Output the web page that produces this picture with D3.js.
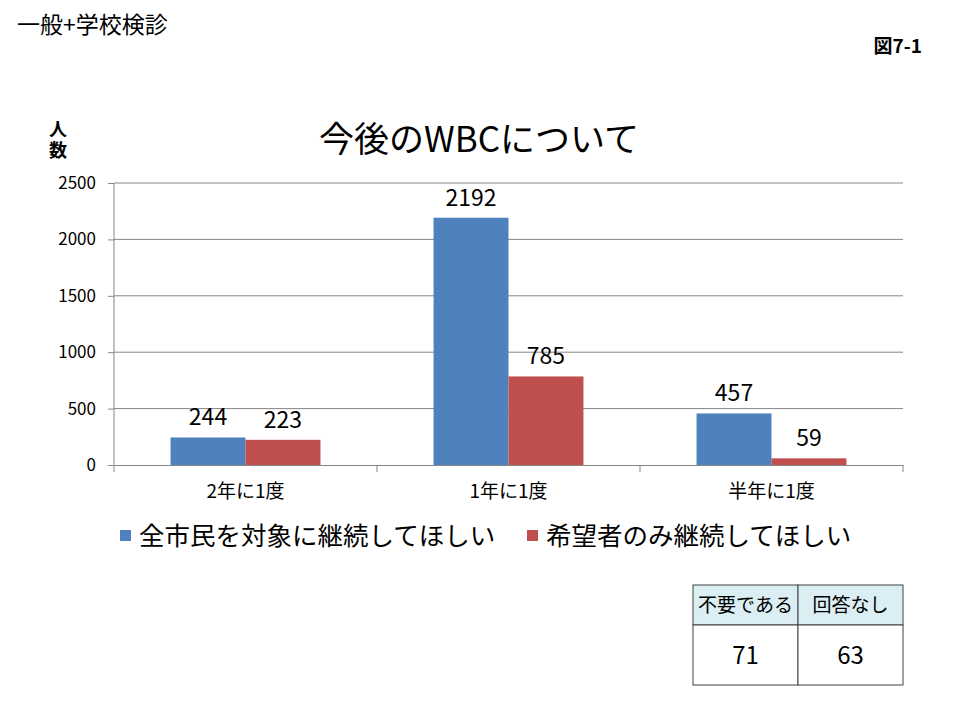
<!DOCTYPE html>
<html lang="ja">
<head>
<meta charset="utf-8">
<title>今後のWBCについて</title>
<style>
  body { margin: 0; background: #fff; font-family: "Noto Sans CJK JP", sans-serif; }
  svg text { fill: #000; }
</style>
</head>
<body>
<svg id="chart" width="960" height="720"></svg>
<script src="https://d3js.org/d3.v7.min.js"></script>
<script>

  const categories = ["2年に1度", "1年に1度", "半年に1度"];
  const seriesNames = ["全市民を対象に継続してほしい", "希望者のみ継続してほしい"];
  const allCitizens = [244, 2192, 457];
  const applicantsOnly = [223, 785, 59];
  const yTicks = [0, 500, 1000, 1500, 2000, 2500];
  const tableHeads = ["不要である", "回答なし"];
  const tableValues = [71, 63];

  const colors = ["#4F81BD", "#C0504D"];
  const series = [allCitizens, applicantsOnly];

  const plot = { left: 114, right: 903, top: 183, bottom: 465 };
  const svg = d3.select("#chart");
  const jp = "'Noto Sans CJK JP', sans-serif";

  // header texts
  svg.append("text").attr("x", 17).attr("y", 33)
    .style("font", "23px " + jp).text("一般+学校検診");
  svg.append("text").attr("x", 922).attr("y", 53).attr("text-anchor", "end")
    .style("font", "bold 19px " + jp).text("図7-1");
  svg.append("text").attr("x", 479).attr("y", 152).attr("text-anchor", "middle")
    .style("font", "35px " + jp).text("今後のWBCについて");
  // vertical axis title
  svg.append("text").attr("x", 58).attr("y", 120)
    .style("font", "bold 18px " + jp)
    .style("writing-mode", "vertical-rl")
    .style("letter-spacing", "3px")
    .text("人数");

  const x = d3.scaleBand().domain(categories).range([plot.left, plot.right]);
  // the two bars of a group sit side by side with no gap
  const groupWidth = x.bandwidth() * 0.57;
  const xs = d3.scaleBand().domain([0, 1])
    .range([(x.bandwidth() - groupWidth) / 2, (x.bandwidth() + groupWidth) / 2]);

  const y = d3.scaleLinear().domain([0, 2500]).range([plot.bottom, plot.top]);

  // gridlines
  svg.append("g").selectAll("line").data(yTicks.slice(1)).join("line")
    .attr("x1", plot.left).attr("x2", plot.right)
    .attr("y1", d => y(d)).attr("y2", d => y(d))
    .attr("stroke", "#868686").attr("stroke-width", 1);

  // y axis
  const yAxis = svg.append("g").attr("transform", `translate(${plot.left},0)`)
    .call(d3.axisLeft(y).tickValues(yTicks).tickFormat(d3.format("d")).tickSize(6).tickPadding(12));
  yAxis.select(".domain").attr("stroke", "#868686").attr("d", `M0,${plot.top}V${plot.bottom}`);
  yAxis.selectAll(".tick line").attr("stroke", "#868686");
  yAxis.selectAll("text").style("font", "17px " + jp).attr("fill", "#000");

  // bars
  const groups = svg.append("g").selectAll("g").data(categories).join("g")
    .attr("transform", d => `translate(${x(d)},0)`);
  groups.selectAll("rect").data((d, i) => series.map((s, k) => ({ k, v: s[i] }))).join("rect")
    .attr("x", d => xs(d.k)).attr("width", xs.bandwidth())
    .attr("y", d => y(d.v)).attr("height", d => y(0) - y(d.v))
    .attr("fill", d => colors[d.k]);
  groups.selectAll("text").data((d, i) => series.map((s, k) => ({ k, v: s[i] }))).join("text")
    .attr("x", d => xs(d.k) + xs.bandwidth() / 2).attr("y", d => y(d.v) - 12)
    .attr("text-anchor", "middle")
    .style("font", "23px " + jp).text(d => d.v);

  // x axis
  const xAxis = svg.append("g").attr("transform", `translate(0,${plot.bottom})`)
    .call(d3.axisBottom(x).tickSize(0).tickPadding(20));
  xAxis.select(".domain").attr("stroke", "#868686");
  xAxis.selectAll("text").style("font", "19px " + jp).attr("fill", "#000");
  svg.append("g").selectAll("line")
    .data(categories.map(c => x(c)).concat([plot.right])).join("line")
    .attr("x1", d => d).attr("x2", d => d)
    .attr("y1", plot.bottom).attr("y2", plot.bottom + 7)
    .attr("stroke", "#868686");

  // legend
  const legendX = [120, 527];
  seriesNames.forEach((name, i) => {
    svg.append("rect").attr("x", legendX[i]).attr("y", 530).attr("width", 11).attr("height", 11)
      .attr("fill", colors[i]);
    svg.append("text").attr("x", legendX[i] + 19).attr("y", 545)
      .style("font", "25.5px " + jp).text(name);
  });

  // table
  const tx = d3.scaleBand().domain(tableHeads).range([693, 903]);
  const table = svg.append("g");
  table.selectAll("rect.head").data(tableHeads).join("rect").attr("class", "head")
    .attr("x", d => tx(d)).attr("y", 585).attr("width", tx.bandwidth()).attr("height", 40)
    .attr("fill", "#DAEEF3").attr("stroke", "#404040");
  table.selectAll("rect.val").data(tableHeads).join("rect").attr("class", "val")
    .attr("x", d => tx(d)).attr("y", 625).attr("width", tx.bandwidth()).attr("height", 60)
    .attr("fill", "#fff").attr("stroke", "#404040");
  table.selectAll("text.head").data(tableHeads).join("text").attr("class", "head")
    .attr("x", d => tx(d) + tx.bandwidth() / 2).attr("y", 612).attr("text-anchor", "middle")
    .style("font", "19px " + jp).text(d => d);
  table.selectAll("text.val").data(tableValues).join("text").attr("class", "val")
    .attr("x", (d, i) => tx(tableHeads[i]) + tx.bandwidth() / 2).attr("y", 664)
    .attr("text-anchor", "middle")
    .style("font", "24px " + jp).text(d => d);

</script>
</body>
</html>
